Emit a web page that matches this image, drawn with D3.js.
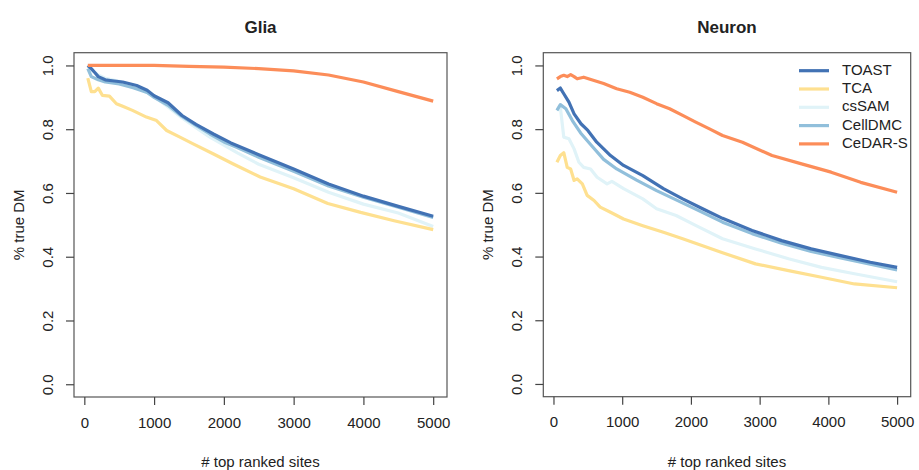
<!DOCTYPE html>
<html><head><meta charset="utf-8">
<script src="https://cdn.jsdelivr.net/npm/d3@7"></script>
<style>body{margin:0;background:#fff;} text{font-family:"Liberation Sans",Arial,Helvetica,sans-serif;fill:#222;}</style>
</head><body><svg id="c" width="919" height="470"></svg>
<script>
const methods = ["TOAST","TCA","csSAM","CellDMC","CeDAR-S"];
const colors = ["#4272b4","#fee090","#e0f3f8","#91bfdb","#fc8d59"];
const drawOrder = ["csSAM","TCA","CellDMC","TOAST","CeDAR-S"];
const panels = ["Glia","Neuron"];
const xTicks = [0,1000,2000,3000,4000,5000];
const yTicks = [0.0,0.2,0.4,0.6,0.8,1.0];
const xLabel = "# top ranked sites";
const yLabel = "% true DM";

const gliaTOAST = [[50,1.0],[100,0.99],[150,0.978],[200,0.965],[300,0.955],[400,0.952],[550,0.948],[750,0.937],[900,0.922],[1000,0.905],[1200,0.883],[1400,0.843],[1600,0.815],[1850,0.785],[2100,0.757],[2500,0.72],[3000,0.675],[3500,0.628],[4000,0.59],[4500,0.558],[5000,0.527]];
const gliaTCA = [[50,0.96],[100,0.918],[150,0.918],[200,0.929],[260,0.906],[360,0.904],[460,0.88],[550,0.872],[690,0.859],[890,0.838],[1035,0.827],[1180,0.796],[1370,0.775],[1560,0.754],[1845,0.723],[2135,0.691],[2520,0.65],[3000,0.613],[3490,0.567],[3960,0.539],[4440,0.513],[5000,0.485]];
const gliaCsSAM = [[50,1.0],[100,0.985],[200,0.97],[300,0.96],[500,0.95],[700,0.935],[900,0.915],[1000,0.903],[1200,0.87],[1400,0.835],[1600,0.805],[1800,0.775],[2000,0.75],[2200,0.725],[2500,0.69],[3000,0.648],[3500,0.602],[4000,0.565],[4500,0.537],[5000,0.495]];
const gliaCellDMC = [[50,0.99],[100,0.965],[200,0.955],[300,0.948],[500,0.942],[700,0.93],[900,0.915],[1000,0.9],[1200,0.875],[1400,0.84],[1600,0.812],[1800,0.785],[2000,0.76],[2200,0.742],[2500,0.712],[3000,0.668],[3500,0.622],[4000,0.587],[4500,0.555],[5000,0.523]];
const gliaCeDAR = [[50,1.0],[500,1.0],[1000,1.0],[1500,0.997],[2000,0.995],[2500,0.99],[3000,0.983],[3500,0.97],[4000,0.948],[4500,0.918],[5000,0.888]];

const neuronTOAST = [[50,0.921],[100,0.929],[150,0.911],[225,0.885],[300,0.848],[400,0.817],[500,0.796],[630,0.759],[830,0.717],[1020,0.686],[1300,0.654],[1600,0.613],[1880,0.581],[2170,0.55],[2460,0.52],[2890,0.482],[3320,0.45],[3750,0.424],[4180,0.403],[4610,0.382],[5000,0.366]];
const neuronTCA = [[50,0.696],[100,0.717],[150,0.726],[200,0.68],[250,0.675],[300,0.639],[345,0.644],[420,0.628],[490,0.592],[590,0.576],[680,0.555],[830,0.539],[1020,0.518],[1300,0.497],[1600,0.476],[1880,0.456],[2170,0.434],[2460,0.412],[2940,0.377],[3420,0.356],[3900,0.335],[4380,0.314],[5000,0.302]];
const neuronCsSAM = [[50,0.859],[100,0.869],[150,0.775],[225,0.77],[300,0.738],[370,0.696],[440,0.68],[540,0.675],[635,0.649],[780,0.628],[850,0.636],[1020,0.613],[1300,0.581],[1500,0.55],[1785,0.529],[2075,0.497],[2460,0.456],[2940,0.424],[3420,0.393],[3900,0.366],[4380,0.346],[5000,0.321]];
const neuronCellDMC = [[50,0.859],[100,0.877],[180,0.864],[275,0.827],[395,0.788],[540,0.752],[730,0.705],[920,0.675],[1210,0.64],[1500,0.607],[1785,0.578],[2075,0.548],[2460,0.508],[2890,0.472],[3320,0.442],[3750,0.416],[4180,0.396],[4610,0.376],[5000,0.358]];
const neuronCeDAR = [[50,0.958],[100,0.965],[150,0.969],[200,0.965],[250,0.971],[300,0.965],[345,0.958],[440,0.963],[590,0.953],[730,0.943],[920,0.927],[1110,0.916],[1300,0.9],[1500,0.88],[1690,0.864],[1880,0.843],[2070,0.822],[2270,0.801],[2460,0.78],[2750,0.759],[3180,0.717],[3610,0.691],[4040,0.665],[4470,0.633],[5000,0.602]];

const seriesBy = {
  "Glia": {"TOAST":gliaTOAST,"TCA":gliaTCA,"csSAM":gliaCsSAM,"CellDMC":gliaCellDMC,"CeDAR-S":gliaCeDAR},
  "Neuron": {"TOAST":neuronTOAST,"TCA":neuronTCA,"csSAM":neuronCsSAM,"CellDMC":neuronCellDMC,"CeDAR-S":neuronCeDAR}
};
const colorOf = d3.scaleOrdinal().domain(methods).range(colors);

const svg = d3.select("#c");
svg.append("rect").attr("width",919).attr("height",470).attr("fill","#fff");

const boxes = [{l:74,r:447,t:52.7,b:397},{l:543.3,r:910.7,t:52.7,b:396.7}];

panels.forEach((p,i)=>{
  const B = boxes[i];
  const x = d3.scaleLinear().domain([-148,5198]).range([B.l,B.r]);
  const y = d3.scaleLinear().domain([-0.04,1.04]).range([B.b,B.t]);
  const g = svg.append("g");
  const line = d3.line().x(d=>x(d[0])).y(d=>y(d[1]));
  drawOrder.forEach(m=>{
    g.append("path").datum(seriesBy[p][m]).attr("d",line)
      .attr("fill","none").attr("stroke",colorOf(m)).attr("stroke-width",3.2)
      .attr("stroke-linejoin","round").attr("stroke-linecap","butt");
  });
  g.append("rect").attr("x",B.l).attr("y",B.t).attr("width",B.r-B.l).attr("height",B.b-B.t)
    .attr("fill","none").attr("stroke","#555").attr("stroke-width",1.2);
  const xa = g.append("g").attr("transform",`translate(0,${B.b})`)
    .call(d3.axisBottom(x).tickValues(xTicks).tickSize(8).tickSizeOuter(0).tickPadding(12).tickFormat(d3.format("d")));
  xa.select(".domain").remove();
  xa.selectAll("line").attr("stroke","#444").attr("stroke-width",1.2);
  xa.selectAll("text").attr("font-size",15).attr("fill","#222").attr("font-family","Liberation Sans, Arial, sans-serif");
  const ya = g.append("g").attr("transform",`translate(${B.l},0)`)
    .call(d3.axisLeft(y).tickValues(yTicks).tickSize(8).tickSizeOuter(0).tickFormat(d3.format(".1f")));
  ya.select(".domain").remove();
  ya.selectAll("line").attr("stroke","#444").attr("stroke-width",1.2);
  ya.selectAll("text").attr("font-size",15).attr("fill","#222").attr("font-family","Liberation Sans, Arial, sans-serif")
    .attr("x",0).attr("dy",0).attr("text-anchor","middle")
    .attr("transform","translate(-25,0) rotate(-90)").attr("dominant-baseline","middle");
  g.append("text").attr("x",(B.l+B.r)/2).attr("y",33).attr("text-anchor","middle")
    .attr("font-size",17).attr("font-weight","bold").text(p);
  g.append("text").attr("x",(B.l+B.r)/2).attr("y",467).attr("text-anchor","middle")
    .attr("font-size",15).text(xLabel);
  g.append("text").attr("transform",`translate(${B.l-54},${(B.t+B.b)/2}) rotate(-90)`)
    .attr("text-anchor","middle").attr("dominant-baseline","middle").attr("font-size",15).text(yLabel);

  if(p==="Neuron"){
    const lg = g.append("g");
    methods.forEach((m,k)=>{
      const yy = 70.7 + k*18.3;
      lg.append("line").attr("x1",799).attr("x2",829).attr("y1",yy).attr("y2",yy)
        .attr("stroke",colorOf(m)).attr("stroke-width",3.2);
      lg.append("text").attr("x",842).attr("y",yy).attr("dominant-baseline","middle")
        .attr("font-size",15).text(m);
    });
  }
});
</script></body></html>
